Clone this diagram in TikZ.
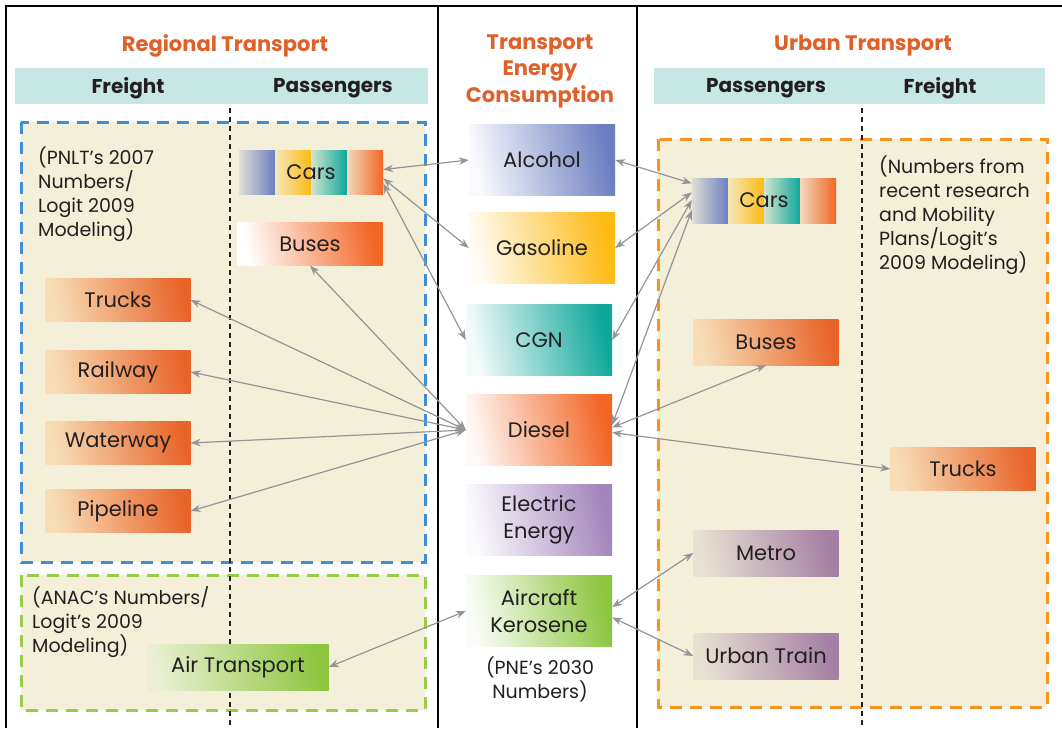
\documentclass[tikz,border=0pt]{standalone}
\usepackage{fontspec}
\setmainfont{Poppins}
\usetikzlibrary{arrows.meta}

\definecolor{ink}{HTML}{231F20}
\definecolor{titleorange}{HTML}{E0602A}
\definecolor{band}{HTML}{C7E7E4}
\definecolor{cream}{HTML}{F3EFD8}
\definecolor{zoneblue}{HTML}{3E8ED5}
\definecolor{zonegreen}{HTML}{9BCB4A}
\definecolor{zoneorange}{HTML}{F7941D}
\definecolor{arrowgray}{HTML}{939598}
\definecolor{fuelblue}{HTML}{6B7EC1}
\definecolor{fuelyellow}{HTML}{FDBA12}
\definecolor{fuelteal}{HTML}{0EA79A}
\definecolor{fuelorange}{HTML}{F26624}
\definecolor{fuelpurple}{HTML}{A385BD}
\definecolor{fuelgreen}{HTML}{8CC63F}
\definecolor{peach}{HTML}{F8DDB7}
\definecolor{modeorange}{HTML}{E8652A}
\definecolor{mauve}{HTML}{A480A4}
\definecolor{mauvelight}{HTML}{E8E1D3}
\definecolor{airlight}{HTML}{E9EFD0}

\tikzset{
  txt/.style={font=\fontsize{21}{27}\selectfont, text=ink},
  title/.style={font=\fontsize{21}{26.5}\selectfont\bfseries, text=titleorange, align=center},
  head/.style={font=\fontsize{20}{24}\selectfont\bfseries, text=ink},
  note/.style={font=\fontsize{19}{24}\selectfont, text=ink, inner sep=0pt, align=left},
  shaded/.style 2 args={top color=#1, bottom color=#2, shading angle=102},
  fuel/.style={txt, align=center, inner sep=0pt, minimum width=146, minimum height=71, shaded={#1!4!white}{#1}},
  mode/.style 2 args={txt, inner sep=0pt, minimum width=145, minimum height=43, shaded={#1}{#2}},
  carbox/.style={txt, inner sep=0pt, minimum width=144, minimum height=45},
  zone/.style={fill=cream, draw=#1, line width=3pt, dash pattern=on 12pt off 8pt},
  sep/.style={draw=ink, line width=1.2pt, dash pattern=on 5pt off 4pt},
  frame/.style={draw=black, line width=2pt},
  conn/.style={{Stealth[length=10pt,width=7.5pt]}-{Stealth[length=10pt,width=7.5pt]}, draw=arrowgray, line width=1.2pt}
}

\begin{document}
\begin{tikzpicture}[x=1pt, y=-1pt]
\useasboundingbox (0,0) rectangle (1062,728);

% frame and columns
\draw[frame] (6,728) -- (6,6) -- (1062,6);
\draw[frame] (438,6) -- (438,728);
\draw[frame] (637,6) -- (637,728);

% titles
\node[title] (regtitle) at (225,46) {Regional Transport};
\node[title] (fueltitle) at (540,71) {Transport\\Energy\\Consumption};
\node[title] (urbtitle) at (863,46) {Urban Transport};

% header bands
\fill[band] (15,68) rectangle (428,104);
\fill[band] (654,68) rectangle (1045,104);
\node[head] (regfreight) at (128,88) {Freight};
\node[head] (regpass) at (333,88) {Passengers};
\node[head] (urbpass) at (766,88) {Passengers};
\node[head] (urbfreight) at (940,88) {Freight};

% dashed zones
\draw[zone=zoneblue] (21,122) rectangle (425,562);
\draw[zone=zonegreen] (21,575) rectangle (425,710);
\draw[zone=zoneorange] (658,139) rectangle (1047,707);
\draw[sep] (230,108) -- (230,728);
\draw[sep] (862,108) -- (862,728);

% notes
\node[note, anchor=north west] (pnlt) at (38,147) {(PNLT’s 2007\\Numbers/\\Logit 2009\\Modeling)};
\node[note, anchor=north west] (anac) at (32,586) {(ANAC’s Numbers/\\Logit’s 2009\\Modeling)};
\node[note, anchor=north west] (mobility) at (879,156) {(Numbers from\\recent research\\and Mobility\\Plans/Logit’s\\2009 Modeling)};
\node[note, align=center] (pne) at (540,679) {(PNE’s 2030\\Numbers)};

% energy sources
\node[fuel=fuelblue] (alcohol) at (542,160) {Alcohol};
\node[fuel=fuelyellow] (gasoline) at (542,248) {Gasoline};
\node[fuel=fuelteal] (cgn) at (539,340) {CGN};
\node[fuel=fuelorange] (diesel) at (539,430) {Diesel};
\node[fuel=fuelpurple] (electric) at (539,520) {Electric\\Energy};
\node[fuel=fuelgreen] (kerosene) at (539,611) {Aircraft\\Kerosene};

% regional modes
\foreach \c [count=\i from 0] in {fuelblue,fuelyellow,fuelteal,fuelorange}
  \shade[left color=\c!15!cream, right color=\c] ({239+36*\i},150) rectangle +(36,44);
\node[carbox] (carsL) at (311,172) {Cars};
\node[mode={white}{fuelorange}] (busesL) at (310,244) {Buses};
\node[mode={peach}{modeorange}] (trucksL) at (118,300) {Trucks};
\node[mode={peach}{modeorange}] (railway) at (118,372) {Railway};
\node[mode={peach}{modeorange}] (waterway) at (118,443) {Waterway};
\node[mode={peach}{modeorange}] (pipeline) at (118,511) {Pipeline};
\node[mode={airlight}{fuelgreen}, minimum width=181, minimum height=46] (air) at (238,667) {Air Transport};

% urban modes
\foreach \c [count=\i from 0] in {fuelblue,fuelyellow,fuelteal,fuelorange}
  \shade[left color=\c!15!cream, right color=\c] ({692+36*\i},178) rectangle +(36,45);
\node[carbox] (carsR) at (764,200) {Cars};
\node[mode={peach}{modeorange}, minimum height=46] (busesR) at (766,342) {Buses};
\node[mode={peach}{modeorange}] (trucksR) at (963,469) {Trucks};
\node[mode={mauvelight}{mauve}, minimum height=46] (metro) at (766,553) {Metro};
\node[mode={mauvelight}{mauve}, minimum height=46] (train) at (766,656) {Urban Train};

% connections
\draw[conn] (carsL.2) -- (alcohol.west);
\draw[conn] (carsL.-5) -- (gasoline.west);
\draw[conn] (carsL.-9) -- (cgn.west);
\draw[conn] (busesL.south) -- (diesel.west);
\draw[conn] (trucksL.east) -- (diesel.west);
\draw[conn] (railway.east) -- (diesel.west);
\draw[conn] (waterway.east) -- (diesel.west);
\draw[conn] (pipeline.east) -- (diesel.west);
\draw[conn] (air.east) -- (kerosene.west);
\draw[conn] (alcohol.east) -- (carsR.167);
\draw[conn] (gasoline.east) -- (carsR.174);
\draw[conn] (cgn.east) -- (carsR.180);
\draw[conn] (diesel.4) -- (carsR.188);
\draw[conn] (diesel.2) -- (busesR.south);
\draw[conn] (diesel.-2) -- (trucksR.west);
\draw[conn] (kerosene.3) -- (metro.west);
\draw[conn] (kerosene.-5) -- (train.west);
\end{tikzpicture}
\end{document}
